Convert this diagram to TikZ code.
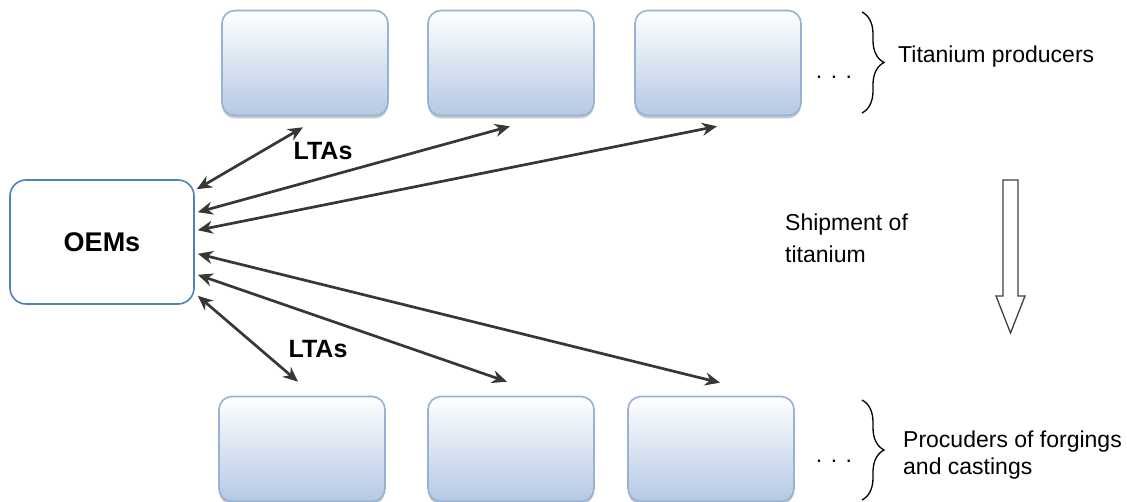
\documentclass[tikz,border=0pt]{standalone}
\usepackage{fontspec}
\setmainfont{Liberation Sans}
\usetikzlibrary{arrows.meta,decorations.pathreplacing,shadows,calc}
\definecolor{boxborder}{RGB}{150,178,212}
\definecolor{boxbottom}{RGB}{180,201,228}
\definecolor{oemborder}{RGB}{79,129,189}
\definecolor{arrowgray}{RGB}{55,55,55}
\tikzset{
  supbox/.style={rounded corners=13pt, draw=boxborder, line width=1.6pt,
    top color=white, bottom color=boxbottom, minimum width=166pt, minimum height=105pt,
    inner sep=0pt, drop shadow={shadow xshift=0pt, shadow yshift=-3pt, fill=black!35, opacity=.6}},
  oembox/.style={rounded corners=16pt, draw=oemborder, line width=1.6pt, fill=white,
    minimum width=184pt, minimum height=124pt, inner sep=0pt,
    font=\fontsize{27}{30}\selectfont\bfseries},
  lta/.style={arrowgray, line width=2.7pt, {Stealth[length=15pt,width=13pt]}-{Stealth[length=15pt,width=13pt]}},
  ltalabel/.style={font=\fontsize{25}{28}\selectfont\bfseries, inner sep=0pt},
  plain/.style={font=\fontsize{23}{27}\selectfont, inner sep=0pt},
  bracestyle/.style={decorate, decoration={brace, amplitude=22pt}, line width=1.3pt}
}
\begin{document}
\begin{tikzpicture}[x=1pt,y=-1pt]
\useasboundingbox (0,0) rectangle (1127,502);
% top row
\node[supbox] (t1) at (305,63) {};
\node[supbox] (t2) at (511,63) {};
\node[supbox] (t3) at (718,63) {};
% bottom row
\node[supbox] (b1) at (302,449) {};
\node[supbox] (b2) at (511,449) {};
\node[supbox] (b3) at (711,449) {};
% OEMs
\node[oembox] (oem) at (102,242) {OEMs};
% arrows
\draw[lta] ($(oem.north east)+(2,10)$) -- ($(t1.south)+(-2,11)$);
\draw[lta] ($(oem.north east)+(3,33)$) -- ($(t2.south)+(-1,10)$);
\draw[lta] ($(oem.north east)+(3,51)$) -- ($(t3.south)+(-1,10)$);
\draw[lta] ($(oem.south east)+(3,-51)$) -- ($(b3.north)+(9,-13)$);
\draw[lta] ($(oem.south east)+(3,-30)$) -- ($(b2.north)+(-4,-14)$);
\draw[lta] ($(oem.south east)+(3,-9)$) -- ($(b1.north)+(-4,-14)$);
\node[ltalabel] (l1) at (323,151) {LTAs};
\node[ltalabel] (l2) at (318,349) {LTAs};
% dots
\node[plain, anchor=base] (d1) at (834,79) {. . .};
\node[plain, anchor=base] (d2) at (834,462) {. . .};
% braces
\draw[bracestyle] (862,12) coordinate (br1a) -- (862,113) coordinate (br1b);
\draw[bracestyle] (862,400) coordinate (br2a) -- (862,500) coordinate (br2b);
\node[plain, anchor=west] (tp) at (898,57) {Titanium producers};
\node[plain, anchor=west, align=left] (pf) at (903,455) {Procuders of forgings\\and castings};
% shipment
\node[plain, anchor=west, align=left] (sh) at (785,238) {Shipment of\\[5pt]titanium};
\draw[line width=1.3pt, draw=black!75, fill=white]
  (1003,180) -- (1018,180) -- (1018,296) -- (1025,296) -- (1010.5,333) -- (996,296) -- (1003,296) -- cycle;
\end{tikzpicture}
\end{document}
